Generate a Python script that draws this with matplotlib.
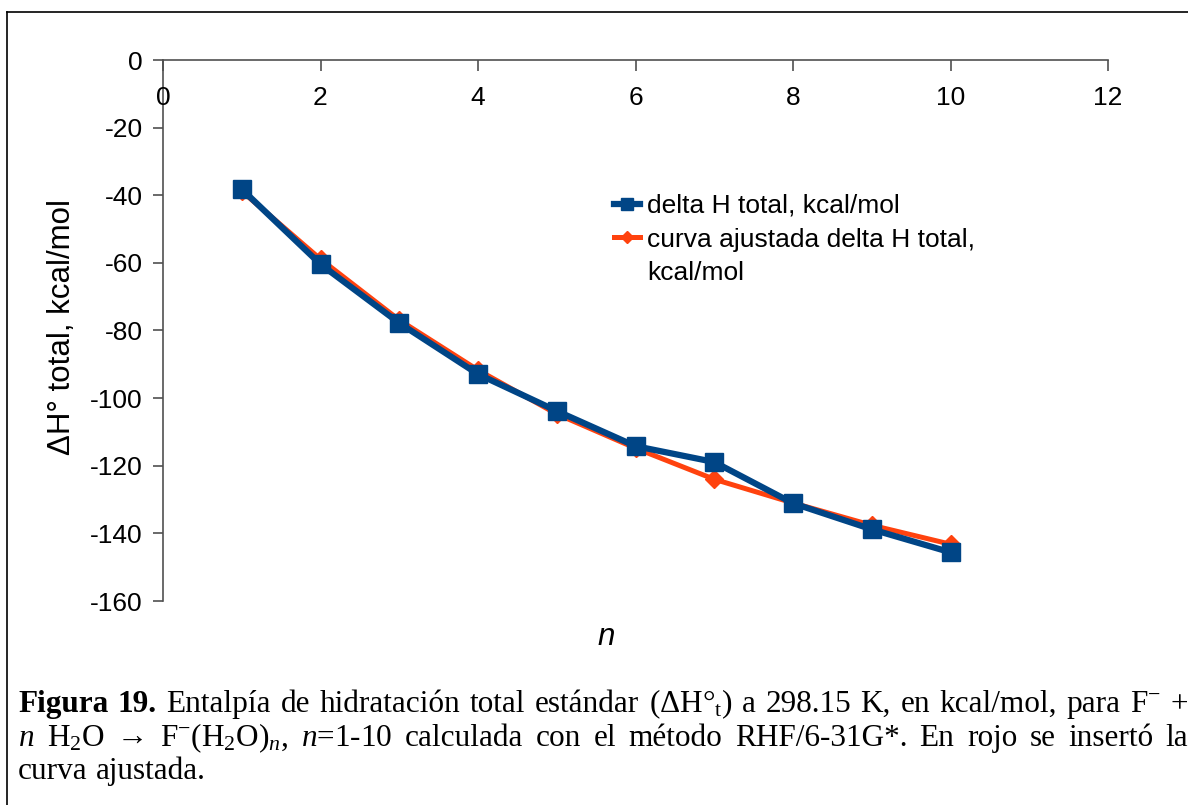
import matplotlib
matplotlib.use("Agg")
import matplotlib.pyplot as plt
from matplotlib.lines import Line2D

n = [1, 2, 3, 4, 5, 6, 7, 8, 9, 10]
dh_total = [-38.2, -60.4, -77.8, -92.9, -103.8, -114.2, -118.9, -131.1, -138.8, -145.6]
dh_fit = [-38.8, -58.9, -76.9, -91.7, -104.7, -114.8, -124.0, -131.0, -137.6, -143.2]
xticks = [0, 2, 4, 6, 8, 10, 12]
yticks = [0, -20, -40, -60, -80, -100, -120, -140, -160]

BLUE = "#004586"
RED = "#ff420e"
SANS = ["Liberation Sans", "DejaVu Sans"]
SERIF = ["Liberation Serif", "DejaVu Serif"]

plt.rcParams["font.family"] = SANS
plt.rcParams["mathtext.fontset"] = "custom"
plt.rcParams["mathtext.rm"] = "Liberation Serif"
plt.rcParams["mathtext.it"] = "Liberation Serif:italic"
plt.rcParams["mathtext.bf"] = "Liberation Serif:bold"

W, H = 1188, 805
fig = plt.figure(figsize=(W / 100, H / 100), dpi=100)

# frame around the figure (only top and left edges show)
fig.add_artist(Line2D([6.5 / W, 6.5 / W], [0, 1 - 12.5 / H], color="black", lw=1.2))
fig.add_artist(Line2D([6.5 / W, 1], [1 - 12.5 / H, 1 - 12.5 / H], color="black", lw=1.2))

ax = fig.add_axes([163 / W, 1 - 601 / H, 945 / W, 541 / H])
ax.plot(n, dh_fit, color=RED, lw=3.6, marker="D", ms=9.5, zorder=3,
        label="curva ajustada delta H total,")
ax.plot(n, dh_total, color=BLUE, lw=4.5, marker="s", ms=13.5, zorder=4,
        label="delta H total, kcal/mol")
ax.set_xlim(0, 12)
ax.set_ylim(-160, 0)
ax.set_xticks(xticks)
ax.set_yticks(yticks)
ax.set_yticklabels([str(v) for v in yticks])

for side in ("bottom", "right"):
    ax.spines[side].set_visible(False)
for side in ("top", "left"):
    ax.spines[side].set_color("#505050")
    ax.spines[side].set_linewidth(1.2)

ax.tick_params(axis="x", bottom=False, labelbottom=False, top=True, labeltop=False,
               direction="in", length=8, width=1.2, color="#505050")
ax.tick_params(axis="y", direction="out", length=7.5, width=1.2, color="#505050",
               labelsize=19, pad=7)
# x labels sit just under the top axis line, inside the plot
for v in xticks:
    ax.text(v, -11.3, str(v), ha="center", va="center", fontsize=19)

fig.text(62 / W, 1 - 327 / H, "ΔH° total, kcal/mol", rotation=90,
         ha="center", va="center", fontsize=22.5)
fig.text(606 / W, 1 - 637 / H, "n", style="italic", ha="center", va="center", fontsize=22.5)

h_fit, h_tot = ax.get_lines()
blank = Line2D([], [], lw=0, marker=None)
leg = ax.legend([h_tot, h_fit, blank],
                ["delta H total, kcal/mol", "curva ajustada delta H total,", "kcal/mol"],
                loc="upper left", bbox_to_anchor=(614 / W, 1 - 194 / H),
                bbox_transform=fig.transFigure, frameon=False, fontsize=19,
                handlelength=1.0, handletextpad=0.25, labelspacing=0.36,
                markerscale=0.6, borderaxespad=0, borderpad=0)

# caption, justified lines set word by word
CAP = 22.5
left, right = 18, 1188
lines = [
    ([("Figura", "bold"), ("19.", "bold"), ("Entalpía", None), ("de", None),
      ("hidratación", None), ("total", None), ("estándar", None),
      (r"(ΔH°$_{\mathrm{t}}$)", None), ("a", None), ("298.15", None), ("K,", None),
      ("en", None), ("kcal/mol,", None), ("para", None), ("F$^{-}$", None),
      ("+", None)], 712, True),
    ([("$n$", None), ("H$_{2}$O", None), ("→", None), ("F$^{-}$(H$_{2}$O)$_{n}$,", None),
      ("$n$=1-10", None), ("calculada", None), ("con", None), ("el", None),
      ("método", None), ("RHF/6-31G*.", None), ("En", None), ("rojo", None),
      ("se", None), ("insertó", None), ("la", None)], 746, True),
    ([("curva", None), ("ajustada.", None)], 779, False),
]
renderer = fig.canvas.get_renderer()
probe = fig.text(0, 0, "a a", fontsize=CAP, family=SERIF)
probe2 = fig.text(0, 0, "aa", fontsize=CAP, family=SERIF)
space = probe.get_window_extent(renderer).width - probe2.get_window_extent(renderer).width
probe.remove()
probe2.remove()
for tokens, base, justify in lines:
    objs = [fig.text(0, 1 - base / H, s, fontsize=CAP, family=SERIF,
                     weight=w or "normal", va="baseline") for s, w in tokens]
    widths = [t.get_window_extent(renderer).width for t in objs]
    gap = (right - left - sum(widths)) / (len(objs) - 1) if justify else space
    x = left
    for t, w in zip(objs, widths):
        t.set_x(x / W)
        x += w + gap

fig.savefig("out.png", dpi=100)
